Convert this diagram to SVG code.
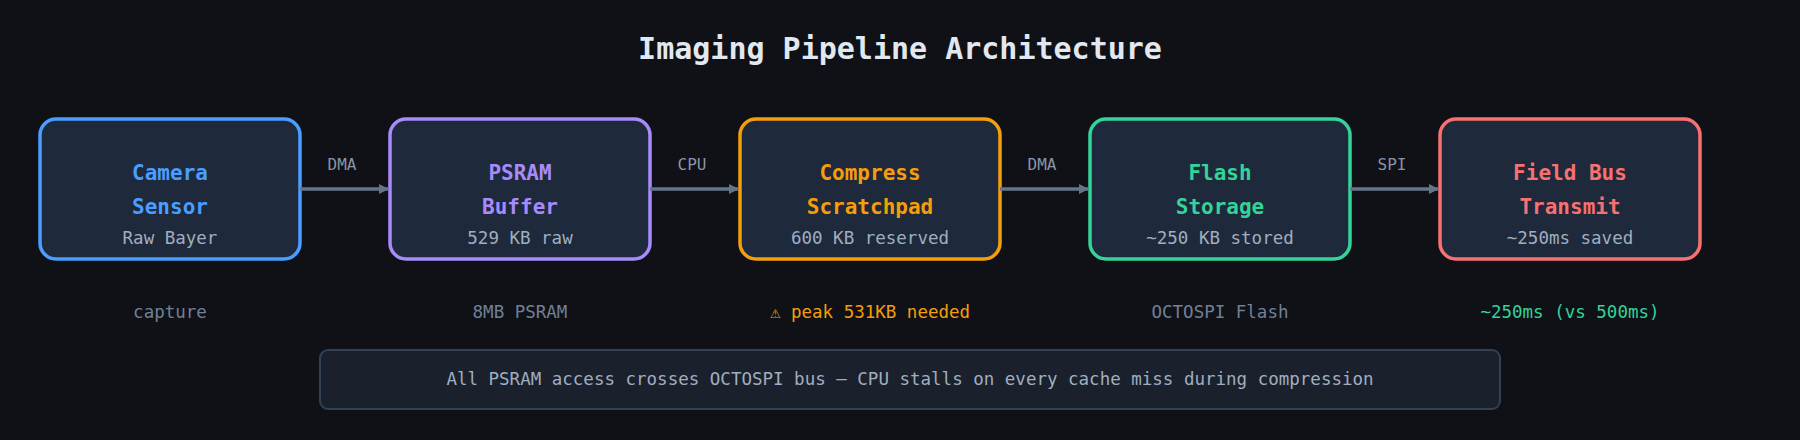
<svg xmlns="http://www.w3.org/2000/svg" width="1800" height="440" viewBox="0 0 1800 440">
<defs>
<marker id="ah" markerWidth="10" markerHeight="10" refX="9" refY="5" orient="auto" markerUnits="userSpaceOnUse" viewBox="0 0 10 10"><path d="M0,0 L10,5 L0,10 z" fill="#64748b"/></marker>
<style>
text{font-family:"DejaVu Sans Mono","Liberation Mono",monospace;text-anchor:middle}
.box{fill:#1e293b;stroke-width:3.5}
.t{font-size:21px;font-weight:bold}
.s{font-size:17.5px;fill:#a0aec0}
.b{font-size:17.5px;fill:#718096}
.al{font-size:16px;fill:#8a94a6}
.c{stroke:#64748b;stroke-width:3.5;fill:none}
</style>
</defs>
<rect width="1800" height="440" fill="#0f1117"/>
<text x="900" y="59" font-size="30" font-weight="bold" fill="#e2e8f0">Imaging Pipeline Architecture</text>
<g id="n1"><rect class="box" x="40" y="119" width="260" height="140" rx="16" stroke="#4a9eff"/><text class="t" x="170" y="180" fill="#4a9eff">Camera</text><text class="t" x="170" y="214" fill="#4a9eff">Sensor</text><text class="s" x="170" y="244">Raw Bayer</text></g>
<g id="n2"><rect class="box" x="390" y="119" width="260" height="140" rx="16" stroke="#a78bfa"/><text class="t" x="520" y="180" fill="#a78bfa">PSRAM</text><text class="t" x="520" y="214" fill="#a78bfa">Buffer</text><text class="s" x="520" y="244">529 KB raw</text></g>
<g id="n3"><rect class="box" x="740" y="119" width="260" height="140" rx="16" stroke="#f59e0b"/><text class="t" x="870" y="180" fill="#f59e0b">Compress</text><text class="t" x="870" y="214" fill="#f59e0b">Scratchpad</text><text class="s" x="870" y="244">600 KB reserved</text></g>
<g id="n4"><rect class="box" x="1090" y="119" width="260" height="140" rx="16" stroke="#34d399"/><text class="t" x="1220" y="180" fill="#34d399">Flash</text><text class="t" x="1220" y="214" fill="#34d399">Storage</text><text class="s" x="1220" y="244">~250 KB stored</text></g>
<g id="n5"><rect class="box" x="1440" y="119" width="260" height="140" rx="16" stroke="#f87171"/><text class="t" x="1570" y="180" fill="#f87171">Field Bus</text><text class="t" x="1570" y="214" fill="#f87171">Transmit</text><text class="s" x="1570" y="244">~250ms saved</text></g>
<g id="connectors">
<path class="c" d="M300,189 H388" marker-end="url(#ah)"/><text class="al" x="342" y="170">DMA</text>
<path class="c" d="M650,189 H738" marker-end="url(#ah)"/><text class="al" x="692" y="170">CPU</text>
<path class="c" d="M1000,189 H1088" marker-end="url(#ah)"/><text class="al" x="1042" y="170">DMA</text>
<path class="c" d="M1350,189 H1438" marker-end="url(#ah)"/><text class="al" x="1392" y="170">SPI</text>
</g>
<text class="b" x="170" y="318">capture</text>
<text class="b" x="520" y="318">8MB PSRAM</text>
<text class="b" x="870" y="318" fill="#f59e0b" style="fill:#f59e0b">⚠ peak 531KB needed</text>
<text class="b" x="1220" y="318">OCTOSPI Flash</text>
<text class="b" x="1570" y="318" style="fill:#34d399">~250ms (vs 500ms)</text>
<g id="note"><rect x="320" y="350" width="1180" height="59" rx="8" fill="#1a202c" stroke="#334155" stroke-width="2"/><text x="910" y="385" font-size="17.5" fill="#a0aec0">All PSRAM access crosses OCTOSPI bus — CPU stalls on every cache miss during compression</text></g>
</svg>
